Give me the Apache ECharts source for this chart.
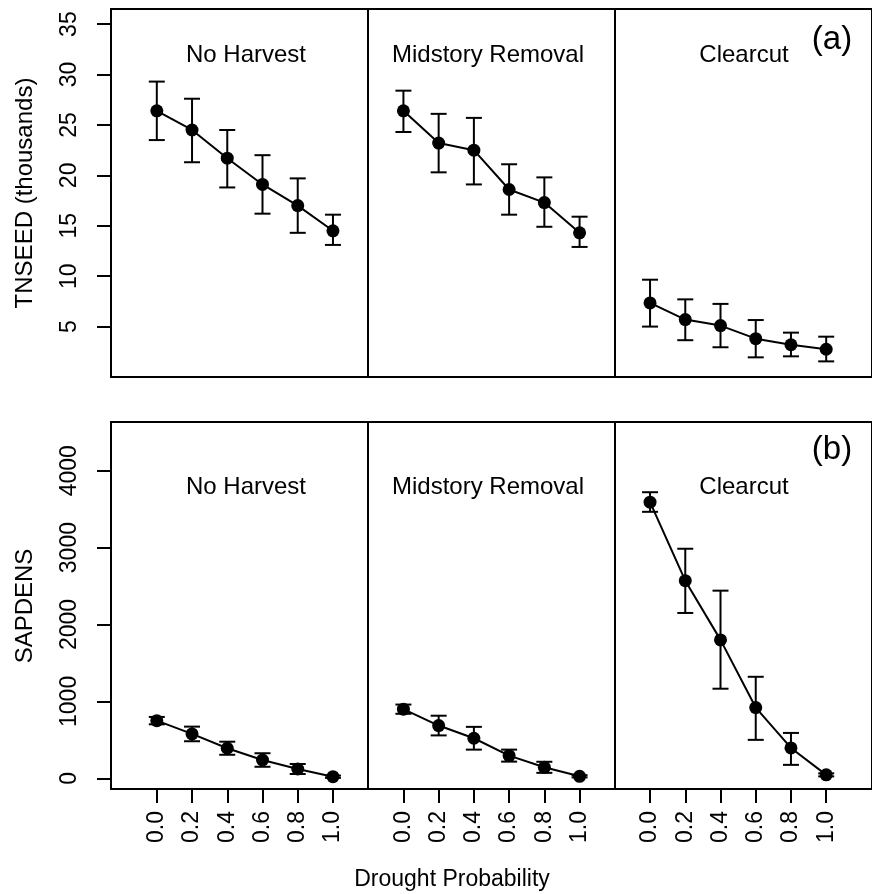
<!DOCTYPE html>
<html>
<head>
<meta charset="utf-8">
<script src="https://cdn.jsdelivr.net/npm/echarts@6/dist/echarts.min.js"></script>
<style>html,body{margin:0;padding:0;background:#fff;}#c{width:872px;height:894px;}</style>
</head>
<body>
<div id="c"></div>
<script>
// ---- data ----
const probs = [0.0, 0.2, 0.4, 0.6, 0.8, 1.0];
const panels = ['No Harvest', 'Midstory Removal', 'Clearcut'];

// TNSEED (thousands)
const tnseedNH = [26.4, 24.5, 21.7, 19.1, 17.0, 14.5];
const tnseedNHlo = [23.5, 21.3, 18.8, 16.2, 14.3, 13.1];
const tnseedNHhi = [29.3, 27.6, 24.5, 22.0, 19.7, 16.1];
const tnseedMR = [26.4, 23.2, 22.5, 18.6, 17.3, 14.3];
const tnseedMRlo = [24.3, 20.3, 19.1, 16.1, 14.9, 12.9];
const tnseedMRhi = [28.4, 26.1, 25.7, 21.1, 19.8, 15.9];
const tnseedCC = [7.35, 5.7, 5.1, 3.8, 3.2, 2.75];
const tnseedCClo = [5.0, 3.65, 2.95, 1.95, 2.05, 1.55];
const tnseedCChi = [9.65, 7.7, 7.25, 5.65, 4.4, 4.0];

// SAPDENS
const sapNH = [750, 577, 391, 238, 121, 21];
const sapNHlo = [702, 482, 306, 150, 56, 6];
const sapNHhi = [798, 672, 476, 326, 186, 36];
const sapMR = [899, 686, 521, 295, 143, 26];
const sapMRlo = [839, 558, 373, 217, 71, 12];
const sapMRhi = [959, 814, 669, 373, 215, 40];
const sapCC = [3590, 2570, 1800, 920, 395, 45];
const sapCClo = [3465, 2150, 1165, 500, 175, 25];
const sapCChi = [3720, 2985, 2440, 1320, 590, 65];

const topTicks = [5, 10, 15, 20, 25, 30, 35];
const botTicks = [0, 1000, 2000, 3000, 4000];

// ---- layout helpers ----
const FONT = '"Liberation Sans", Arial, Helvetica, sans-serif';
const FS = 23;
const PANEL_STEP = 7;            // x-units between panel starts (6 ticks + gap)
const xPos = (panel, p) => panel * PANEL_STEP + p * 5;
const xTickVals = [];
panels.forEach((_, i) => probs.forEach(p => xTickVals.push(xPos(i, p))));

const rows = [
  { mean: [tnseedNH, tnseedMR, tnseedCC], lo: [tnseedNHlo, tnseedMRlo, tnseedCClo], hi: [tnseedNHhi, tnseedMRhi, tnseedCChi] },
  { mean: [sapNH, sapMR, sapCC], lo: [sapNHlo, sapMRlo, sapCClo], hi: [sapNHhi, sapMRhi, sapCChi] }
];

const series = [];
rows.forEach((row, r) => {
  panels.forEach((name, i) => {
    const ebData = probs.map((p, k) => [xPos(i, p), row.lo[i][k], row.hi[i][k]]);
    series.push({
      type: 'custom', xAxisIndex: r, yAxisIndex: r, silent: true,
      data: ebData,
      encode: { x: 0, y: [1, 2] },
      renderItem: function (params, api) {
        const x = api.value(0);
        const lo = api.coord([x, api.value(1)]);
        const hi = api.coord([x, api.value(2)]);
        const w = 8;
        const st = { stroke: '#000', lineWidth: 2 };
        return {
          type: 'group',
          children: [
            { type: 'line', shape: { x1: lo[0], y1: lo[1], x2: hi[0], y2: hi[1] }, style: st },
            { type: 'line', shape: { x1: lo[0] - w, y1: lo[1], x2: lo[0] + w, y2: lo[1] }, style: st },
            { type: 'line', shape: { x1: hi[0] - w, y1: hi[1], x2: hi[0] + w, y2: hi[1] }, style: st }
          ]
        };
      }
    });
    const lineData = probs.map((p, k) => [xPos(i, p), row.mean[i][k]]);
    const s = {
      type: 'line', xAxisIndex: r, yAxisIndex: r, silent: true,
      data: lineData,
      symbol: 'circle', symbolSize: 13,
      itemStyle: { color: '#000' },
      lineStyle: { color: '#000', width: 2 },
      z: 3
    };
    if (i === 0) {
      s.markLine = {
        silent: true, symbol: 'none', label: { show: false },
        lineStyle: { color: '#000', width: 2, type: 'solid' },
        data: [{ xAxis: 6 }, { xAxis: 13 }]
      };
    }
    series.push(s);
  });
});

const xAxisBase = (gi, showLabels) => ({
  type: 'value', gridIndex: gi, min: -1.3, max: 20.3, position: 'bottom',
  splitLine: { show: false },
  axisLine: { show: false, onZero: false },
  axisTick: { show: showLabels, length: 14, lineStyle: { color: '#000', width: 2 }, customValues: xTickVals },
  axisLabel: {
    show: showLabels, customValues: xTickVals, rotate: 90, margin: 22,
    color: '#000', fontSize: FS, fontFamily: FONT,
    formatter: v => ((v % PANEL_STEP) / 5).toFixed(1)
  }
});

const yAxisBase = (gi, min, max, ticks) => ({
  type: 'value', gridIndex: gi, min: min, max: max, position: 'left',
  splitLine: { show: false },
  axisLine: { show: false, onZero: false },
  axisTick: { show: true, length: 14, lineStyle: { color: '#000', width: 2 }, customValues: ticks },
  axisLabel: {
    customValues: ticks, rotate: 90, margin: 30,
    color: '#000', fontSize: FS, fontFamily: FONT,
    formatter: v => String(v)
  }
});

const txt = (x, y, t, size) => ({
  type: 'text', x: x, y: y,
  style: { text: t, fill: '#000', font: size + 'px ' + FONT, textAlign: 'center', textVerticalAlign: 'middle' }
});

const panelCentersX = [246, 488, 744];
const graphics = [];
panels.forEach((p, i) => {
  graphics.push(txt(panelCentersX[i], 55, p, 24));
  graphics.push(txt(panelCentersX[i], 487, p, 24));
});
graphics.push(txt(832, 40, '(a)', 33));
graphics.push(txt(832, 450, '(b)', 33));
graphics.push(txt(452, 880, 'Drought Probability', FS));
graphics.push(Object.assign(txt(25, 193, 'TNSEED (thousands)', 24), { rotation: Math.PI / 2 }));
graphics.push(Object.assign(txt(25, 606, 'SAPDENS', 24), { rotation: Math.PI / 2 }));

const chart = echarts.init(document.getElementById('c'), null, { renderer: 'canvas' });
chart.setOption({
  animation: false,
  backgroundColor: '#fff',
  grid: [
    { left: 111, right: -8, top: 9, height: 368, show: true, borderColor: '#000', borderWidth: 2, backgroundColor: 'transparent' },
    { left: 111, right: -8, top: 422, height: 367, show: true, borderColor: '#000', borderWidth: 2, backgroundColor: 'transparent' }
  ],
  xAxis: [xAxisBase(0, false), xAxisBase(1, true)],
  yAxis: [yAxisBase(0, 0, 36.5, topTicks), yAxisBase(1, -139, 4633, botTicks)],
  series: series,
  graphic: graphics
});
</script>
</body>
</html>
